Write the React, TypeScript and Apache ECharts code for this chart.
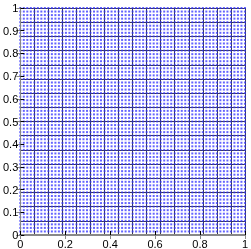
import React, { useEffect, useRef } from "react";
import * as echarts from "echarts";

// Mesh coordinates of the points (same along x and y)
const meshCoords = [
  0, 0.015625, 0.03125, 0.046875, 0.0625, 0.078125, 0.09375, 0.109375,
  0.125, 0.140625, 0.15625, 0.171875, 0.1875, 0.203125, 0.21875, 0.234375,
  0.25, 0.265625, 0.28125, 0.296875, 0.3125, 0.328125, 0.34375, 0.359375,
  0.375, 0.390625, 0.40625, 0.421875, 0.4375, 0.453125, 0.46875, 0.484375,
  0.5, 0.515625, 0.53125, 0.546875, 0.5625, 0.578125, 0.59375, 0.609375,
  0.625, 0.640625, 0.65625, 0.671875, 0.6875, 0.703125, 0.71875, 0.734375,
  0.75, 0.765625, 0.78125, 0.796875, 0.8125, 0.828125, 0.84375, 0.859375,
  0.875, 0.890625, 0.90625, 0.921875, 0.9375, 0.953125, 0.96875, 0.984375, 1,
];
const xTickLabels = ["0", "0.2", "0.4", "0.6", "0.8", "1"];
const yTickLabels = ["0", "0.1", "0.2", "0.3", "0.4", "0.5", "0.6", "0.7", "0.8", "0.9", "1"];
const xTickStep = 0.2;
const yTickStep = 0.1;
const gridLineStep = 0.0625;

const font = "'Liberation Sans', Arial, sans-serif";

export default function App() {
  const ref = useRef<HTMLDivElement>(null);
  useEffect(() => {
    if (!ref.current) return;
    const chart = echarts.init(ref.current, null, { renderer: "svg" });
    const points: number[][] = [];
    for (const x of meshCoords) for (const y of meshCoords) points.push([x, y]);
    const fmt = (labels: string[], step: number) => (v: number) => {
      const i = Math.round(v / step);
      return labels[i] ?? "";
    };
    chart.setOption({
      animation: false,
      grid: { left: 16, top: 8, width: 230, height: 234, containLabel: false },
      xAxis: [
        {
          type: "value", min: 0, max: 1, interval: xTickStep, position: "bottom",
          axisLine: { show: true, lineStyle: { color: "#000", width: 1 } },
          axisTick: { show: true, inside: true, length: 4, lineStyle: { color: "#000" } },
          axisLabel: { show: true, color: "#000", fontSize: 11, fontFamily: font, margin: 3, formatter: fmt(xTickLabels, xTickStep) },
          splitLine: { show: false },
          z: 10,
        },
        {
          type: "value", min: 0, max: 1, interval: xTickStep, position: "top",
          axisLine: { show: true, lineStyle: { color: "#888", width: 2 } },
          axisTick: { show: true, inside: true, length: 4, lineStyle: { color: "#888" } },
          axisLabel: { show: false },
          splitLine: { show: false },
          z: 10,
        },
        {
          type: "value", min: 0, max: 1, interval: gridLineStep, position: "bottom",
          axisLine: { show: false }, axisTick: { show: false }, axisLabel: { show: false },
          splitLine: { show: true, lineStyle: { color: "#1a1a2a", width: 1, opacity: 0.85 } },
        },
      ],
      yAxis: [
        {
          type: "value", min: 0, max: 1, interval: yTickStep, position: "left",
          axisLine: { show: true, lineStyle: { color: "#000", width: 1 } },
          axisTick: { show: true, inside: true, length: 4, lineStyle: { color: "#000" } },
          axisLabel: { show: true, color: "#000", fontSize: 11, fontFamily: font, margin: 2, formatter: fmt(yTickLabels, yTickStep) },
          splitLine: { show: false },
          z: 10,
        },
        {
          type: "value", min: 0, max: 1, interval: yTickStep, position: "right",
          axisLine: { show: true, lineStyle: { color: "#888", width: 1 } },
          axisTick: { show: true, inside: true, length: 4, lineStyle: { color: "#888" } },
          axisLabel: { show: false },
          splitLine: { show: false },
          z: 10,
        },
        {
          type: "value", min: 0, max: 1, interval: gridLineStep, position: "left",
          axisLine: { show: false }, axisTick: { show: false }, axisLabel: { show: false },
          splitLine: { show: true, lineStyle: { color: "#1a1a2a", width: 1, opacity: 0.85 } },
        },
      ],
      series: [
        {
          type: "scatter",
          xAxisIndex: 0,
          yAxisIndex: 0,
          data: points,
          symbol: "rect",
          symbolSize: 2,
          silent: true,
          itemStyle: { color: "#3030ff", opacity: 0.75 },
          z: 3,
        },
      ],
    });
    return () => chart.dispose();
  }, []);
  return <div ref={ref} style={{ position: "fixed", left: 0, top: 0, width: 251, height: 249 }} />;
}
